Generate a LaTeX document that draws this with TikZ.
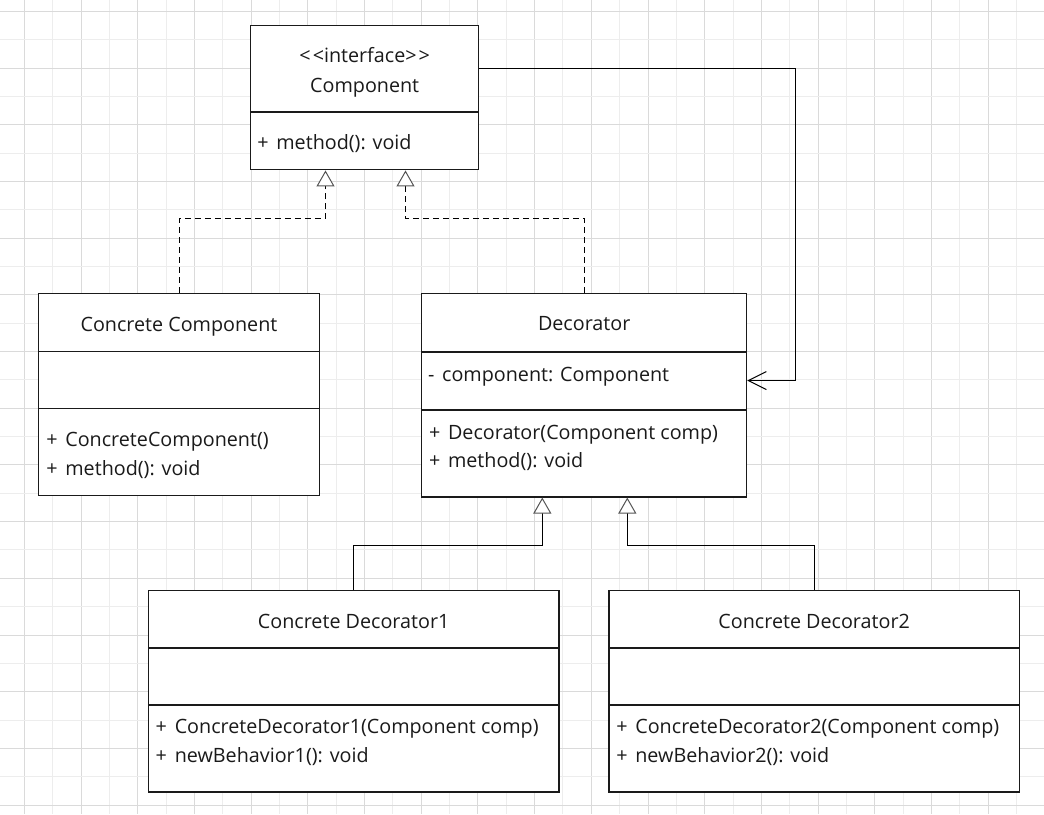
\documentclass[tikz,border=0pt]{standalone}
\usepackage{fontspec}
\setmainfont{Open Sans}
\usetikzlibrary{arrows.meta,calc}
\definecolor{gridA}{HTML}{DADADA}
\definecolor{gridB}{HTML}{EDEDED}
\definecolor{ink}{HTML}{1A1A1A}
\definecolor{tipgray}{HTML}{555555}
\newcommand{\pls}{+\ \hspace{2pt}}
\newcommand{\mns}{-\ \hspace{2pt}}
\begin{document}
\begin{tikzpicture}[x=0.75pt,y=-0.75pt,
  umlbox/.style={draw=ink, line width=0.8pt, fill=white, inner sep=0pt, rectangle},
  divline/.style={draw=ink, line width=0.8pt},
  txt/.style={inner sep=0pt, outer sep=0pt, text=ink, font=\fontsize{14.8pt}{18pt}\selectfont},
  conn/.style={draw=black, line width=0.75pt},
  realize/.style={conn, dash pattern=on 4.5pt off 3pt,
    -{Triangle[length=12pt, width=13.5pt, color=tipgray, fill=white, line width=0.75pt]}},
  inherit/.style={conn,
    -{Triangle[length=12pt, width=13.5pt, color=tipgray, fill=white, line width=0.75pt]}},
  assoc/.style={conn, -{Straight Barb[length=13.5pt, width=13.5pt, line width=0.75pt]}}]
\useasboundingbox (0,0) rectangle (1044,814);
\fill[white] (0,0) rectangle (1044,814);
% grid
\foreach \i in {0,...,35} {
  \pgfmathtruncatemacro{\ev}{mod(\i,2)}
  \ifnum\ev=0 \def\gc{gridA}\else\def\gc{gridB}\fi
  \draw[\gc, line width=0.75pt] ({24.3+\i*28.35},0) -- ({24.3+\i*28.35},814);
}
\foreach \j in {0,...,28} {
  \pgfmathtruncatemacro{\ev}{mod(\j,2)}
  \ifnum\ev=0 \def\gc{gridA}\else\def\gc{gridB}\fi
  \draw[\gc, line width=0.75pt] (0,{11.3+\j*28.35}) -- (1044,{11.3+\j*28.35});
}
% boxes
\node[umlbox, minimum width=228*0.75pt, minimum height=144.6*0.75pt] (comp) at (364.7,97.6) {};
\node[umlbox, minimum width=280.6*0.75pt, minimum height=202*0.75pt] (cc) at (179,394.4) {};
\node[umlbox, minimum width=325*0.75pt, minimum height=203.3*0.75pt] (dec) at (584.2,395.35) {};
\node[umlbox, minimum width=410.7*0.75pt, minimum height=201.7*0.75pt] (cd1) at (353.65,691.15) {};
\node[umlbox, minimum width=410.3*0.75pt, minimum height=201.7*0.75pt] (cd2) at (814.15,691.15) {};
% dividers
\draw[divline] ($(comp.west)+(0,14.4)$) -- ($(comp.east)+(0,14.4)$);
\draw[divline] ($(cc.west)+(0,-42.7)$) -- ($(cc.east)+(0,-42.7)$);
\draw[divline] ($(cc.west)+(0,14.3)$) -- ($(cc.east)+(0,14.3)$);
\draw[divline] ($(dec.west)+(0,-43.35)$) -- ($(dec.east)+(0,-43.35)$);
\draw[divline] ($(dec.west)+(0,14.65)$) -- ($(dec.east)+(0,14.65)$);
\draw[divline] ($(cd1.west)+(0,-43.15)$) -- ($(cd1.east)+(0,-43.15)$);
\draw[divline] ($(cd1.west)+(0,13.85)$) -- ($(cd1.east)+(0,13.85)$);
\draw[divline] ($(cd2.west)+(0,-43.15)$) -- ($(cd2.east)+(0,-43.15)$);
\draw[divline] ($(cd2.west)+(0,13.85)$) -- ($(cd2.east)+(0,13.85)$);
% texts
\node[txt, anchor=base] (comp-st) at (364.7,62.7) {<\hspace{1.5pt}<interface>\hspace{1.5pt}>};
\node[txt, anchor=base] (comp-t) at (364.7,92) {Component};
\node[txt, anchor=base west] (comp-m1) at (257.3,149.3) {\pls method(): void};
\node[txt, anchor=base] (cc-t) at (179,331) {Concrete Component};
\node[txt, anchor=base west] (cc-m1) at (46.3,446.7) {\pls ConcreteComponent()};
\node[txt, anchor=base west] (cc-m2) at (46.3,475.3) {\pls method(): void};
\node[txt, anchor=base] (dec-t) at (584.2,330.7) {Decorator};
\node[txt, anchor=base west] (dec-a1) at (428,381) {\mns component: Component};
\node[txt, anchor=base west] (dec-m1) at (429,439) {\pls Decorator(Component comp)};
\node[txt, anchor=base west] (dec-m2) at (429,467.3) {\pls method(): void};
\node[txt, anchor=base] (cd1-t) at (353.65,628) {Concrete Decorator1};
\node[txt, anchor=base west] (cd1-m1) at (155.7,733.7) {\pls ConcreteDecorator1(Component comp)};
\node[txt, anchor=base west] (cd1-m2) at (155.7,762.7) {\pls newBehavior1(): void};
\node[txt, anchor=base] (cd2-t) at (814.15,628) {Concrete Decorator2};
\node[txt, anchor=base west] (cd2-m1) at (616.3,733.7) {\pls ConcreteDecorator2(Component comp)};
\node[txt, anchor=base west] (cd2-m2) at (616.3,762.7) {\pls newBehavior2(): void};
% connectors
\draw[realize] (cc.north) |- ($(comp.south)+(-39.2,48.3)$) -- ($(comp.south)+(-39.2,0)$);
\draw[realize] (dec.north) |- ($(comp.south)+(40.8,48.3)$) -- ($(comp.south)+(40.8,0)$);
\draw[inherit] (cd1.north) |- ($(dec.south)+(-41.9,48.3)$) -- ($(dec.south)+(-41.9,0)$);
\draw[inherit] (cd2.north) |- ($(dec.south)+(43.1,48.3)$) -- ($(dec.south)+(43.1,0)$);
\draw[assoc] ($(comp.east)+(0,-29.2)$) -| ($(dec.east)+(48.6,-14.8)$) -- ($(dec.east)+(0,-14.8)$);
\end{tikzpicture}
\end{document}
